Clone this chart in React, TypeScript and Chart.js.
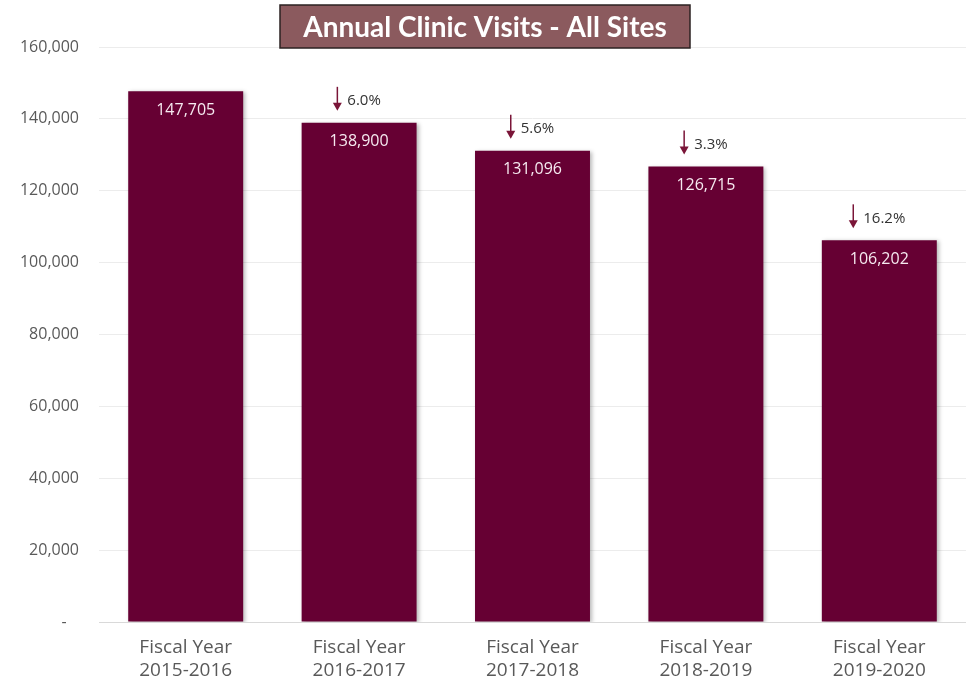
import React, { useEffect, useRef } from "react";
import { Chart, registerables } from "chart.js";

Chart.register(...registerables);

const TITLE = "Annual Clinic Visits - All Sites";
const categories: string[][] = [
  ["Fiscal Year", "2015-2016"],
  ["Fiscal Year", "2016-2017"],
  ["Fiscal Year", "2017-2018"],
  ["Fiscal Year", "2018-2019"],
  ["Fiscal Year", "2019-2020"],
];
const visits: number[] = [147705, 138900, 131096, 126715, 106202];
const declines: string[] = ["", "6.0%", "5.6%", "3.3%", "16.2%"];
const yTicks: number[] = [0, 20000, 40000, 60000, 80000, 100000, 120000, 140000, 160000];

const BAR = "#660033";
const FONT = "'Open Sans', 'DejaVu Sans', sans-serif";

const fmt = (v: number) => v.toLocaleString("en-US");

const decorPlugin = {
  id: "decor",
  beforeDatasetsDraw(chart: any) {
    const ctx = chart.ctx;
    ctx.save();
    ctx.shadowColor = "rgba(0,0,0,0.28)";
    ctx.shadowBlur = 4;
    ctx.shadowOffsetX = 2;
    ctx.shadowOffsetY = 1;
  },
  afterDatasetsDraw(chart: any) {
    const ctx = chart.ctx;
    ctx.restore();
    const meta = chart.getDatasetMeta(0);
    ctx.save();
    meta.data.forEach((bar: any, i: number) => {
      const x = bar.x;
      const top = bar.y;
      ctx.font = `16px ${FONT}`;
      ctx.fillStyle = "#f6e9f0";
      ctx.textAlign = "center";
      ctx.textBaseline = "middle";
      ctx.fillText(fmt(visits[i]), x, top + 19);
      const d = declines[i];
      if (d) {
        ctx.font = `15px ${FONT}`;
        const tw = ctx.measureText(d).width;
        const gap = 10;
        const groupW = gap + tw;
        const ax = x - groupW / 2;
        const ty = top - 22;
        ctx.strokeStyle = "#7a1538";
        ctx.fillStyle = "#7a1538";
        ctx.lineWidth = 1.5;
        ctx.beginPath();
        ctx.moveTo(ax, top - 36);
        ctx.lineTo(ax, top - 18);
        ctx.stroke();
        ctx.beginPath();
        ctx.moveTo(ax - 4.5, top - 20);
        ctx.lineTo(ax + 4.5, top - 20);
        ctx.lineTo(ax, top - 12);
        ctx.closePath();
        ctx.fill();
        ctx.fillStyle = "#333333";
        ctx.textAlign = "left";
        ctx.textBaseline = "middle";
        ctx.fillText(d, ax + gap, ty);
      }
    });
    ctx.restore();
  },
  afterDraw(chart: any) {
    const ctx = chart.ctx;
    ctx.save();
    const bx = 280, by = 5, bw = 410, bh = 43;
    ctx.fillStyle = "#8b5a5e";
    ctx.fillRect(bx, by, bw, bh);
    ctx.strokeStyle = "#2b2222";
    ctx.lineWidth = 1.5;
    ctx.strokeRect(bx, by, bw, bh);
    let size = 28;
    ctx.font = `bold ${size}px Lato, ${FONT}`;
    const w = ctx.measureText(TITLE).width;
    const target = 398;
    if (w > target) {
      size = Math.floor((size * target) / w);
      ctx.font = `bold ${size}px Lato, ${FONT}`;
    }
    ctx.fillStyle = "#ffffff";
    ctx.textAlign = "center";
    ctx.textBaseline = "middle";
    ctx.fillText(TITLE, bx + bw / 2, by + bh / 2 + 1);
    ctx.restore();
  },
};

export default function App() {
  const ref = useRef<HTMLCanvasElement | null>(null);
  useEffect(() => {
    if (!ref.current) return;
    const chart = new Chart(ref.current, {
      type: "bar",
      data: {
        labels: categories,
        datasets: [
          {
            data: visits,
            backgroundColor: BAR,
            borderWidth: 0,
            categoryPercentage: 1,
            barPercentage: 0.663,
          },
        ],
      },
      options: {
        responsive: false,
        animation: false,
        layout: { padding: { top: 47, right: 0, left: 0, bottom: 0 } },
        plugins: {
          legend: { display: false },
          title: { display: false },
          tooltip: { enabled: false },
        },
        scales: {
          x: {
            grid: { display: false, drawTicks: false },
            border: { display: true, color: "#d9d9d9", width: 1 },
            ticks: {
              color: "#595959",
              font: { family: FONT, size: 19 },
              padding: 14,
              maxRotation: 0,
            },
            afterFit: (s: any) => {
              s.height = 67;
            },
          },
          y: {
            min: 0,
            max: 160000,
            afterBuildTicks: (s: any) => {
              s.ticks = yTicks.map((v) => ({ value: v }));
            },
            grid: { color: "#ececec", drawTicks: false, lineWidth: 1 },
            border: { display: false },
            ticks: {
              color: "#595959",
              font: { family: FONT, size: 16 },
              padding: 20,
              callback: (v: any) => (Number(v) === 0 ? "-   " : fmt(Number(v))),
            },
            afterFit: (s: any) => {
              s.width = 99;
            },
          },
        },
      },
      plugins: [decorPlugin],
    });
    return () => chart.destroy();
  }, []);
  return (
    <div style={{ position: "absolute", left: 0, top: 0, width: 966, height: 689, background: "#fff" }}>
      <canvas ref={ref} width={966} height={689} style={{ display: "block" }} />
    </div>
  );
}
